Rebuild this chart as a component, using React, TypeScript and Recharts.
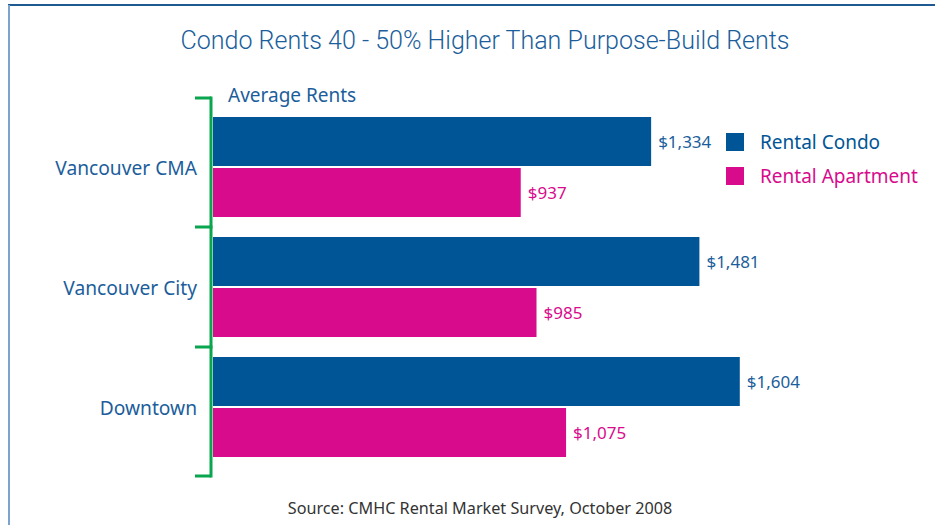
import React from "react";
import { BarChart, Bar, XAxis, YAxis, LabelList } from "recharts";

const categories = ["Vancouver CMA", "Vancouver City", "Downtown"];
const condoRents = [1334, 1481, 1604];
const apartmentRents = [937, 985, 1075];
const seriesNames = ["Rental Condo", "Rental Apartment"];

const CONDO = "#005596";
const APT = "#d80b8c";
const TEXT_BLUE = "#1b5e9b";
const GREEN = "#0aa54f";
const FONT = "'Noto Sans', 'Open Sans', sans-serif";

const data = categories.map((name, i) => ({
  name,
  condo: condoRents[i],
  apartment: apartmentRents[i],
}));

const fmt = (v: number) => "$" + v.toLocaleString("en-US");

const BracketTick = (props: any) => {
  const { x, y, payload, index } = props;
  const off = payload && payload.offset ? payload.offset : 60;
  const n = categories.length;
  const top = index === 0 ? y - off - 9 : y - off;
  const bottom = index === n - 1 ? y + off + 9 : y + off;
  const lx = x - 2;
  return (
    <g>
      <text
        x={x - 16}
        y={y}
        textAnchor="end"
        dominantBaseline="central"
        fill={TEXT_BLUE}
        fontSize={19.2}
        fontFamily={FONT}
      >
        {payload.value}
      </text>
      <line x1={lx} x2={lx} y1={top - 1.5} y2={bottom + 1.5} stroke={GREEN} strokeWidth={3} />
      <line x1={x - 18} x2={lx} y1={top} y2={top} stroke={GREEN} strokeWidth={3} />
      {index === n - 1 && (
        <line x1={x - 18} x2={lx} y1={bottom} y2={bottom} stroke={GREEN} strokeWidth={3} />
      )}
    </g>
  );
};

const LegendBox = () => {
  const colors = [CONDO, APT];
  return (
    <div style={{ position: "absolute", left: 726, top: 133, fontFamily: FONT }}>
      {seriesNames.map((s, i) => (
        <div key={s} style={{ display: "flex", alignItems: "center", height: 18, marginBottom: 16 }}>
          <div style={{ width: 18, height: 18, background: colors[i] }} />
          <span style={{ marginLeft: 16, fontSize: 19, color: colors[i], whiteSpace: "nowrap" }}>{s}</span>
        </div>
      ))}
    </div>
  );
};

export default function App() {
  return (
    <div style={{ position: "absolute", left: 0, top: 0, width: 935, height: 525, background: "#fff", overflow: "hidden" }}>
      <div style={{ position: "absolute", left: 8, top: 4, width: 927, height: 2, background: "#1d5a92" }} />
      <div style={{ position: "absolute", left: 8, top: 5, width: 2, height: 520, background: "#7ba3cc" }} />
      <svg width={935} height={525} style={{ position: "absolute", left: 0, top: 0 }}>
        <text
          x={485}
          y={49}
          textAnchor="middle"
          fill={TEXT_BLUE}
          fontSize={26}
          fontWeight={300}
          fontFamily="Roboto, sans-serif"
          textLength={609}
          lengthAdjust="spacingAndGlyphs"
        >
          Condo Rents 40 - 50% Higher Than Purpose-Build Rents
        </text>
        <text x={228} y={102} fill={TEXT_BLUE} fontSize={19} fontFamily={FONT}>
          Average Rents
        </text>
        <text x={480} y={514} textAnchor="middle" fill="#333" fontSize={16.2} fontFamily={FONT}>
          Source: CMHC Rental Market Survey, October 2008
        </text>
      </svg>
      <div style={{ position: "absolute", left: 0, top: 0 }}>
        <BarChart
          width={935}
          height={525}
          data={data}
          layout="vertical"
          margin={{ top: 107, bottom: 58, left: 13, right: 52 }}
          barCategoryGap={10}
          barGap={2}
        >
          <XAxis type="number" domain={[0, 2040]} hide />
          <YAxis
            type="category"
            dataKey="name"
            width={200}
            axisLine={false}
            tickLine={false}
            tickSize={0}
            tickMargin={0}
            tick={<BracketTick />}
            interval={0}
          />
          <Bar dataKey="condo" name={seriesNames[0]} fill={CONDO} isAnimationActive={false}>
            <LabelList
              dataKey="condo"
              position="right"
              offset={7}
              formatter={(v: any) => fmt(Number(v))}
              fill={TEXT_BLUE}
              fontSize={17}
              fontFamily={FONT}
            />
          </Bar>
          <Bar dataKey="apartment" name={seriesNames[1]} fill={APT} isAnimationActive={false}>
            <LabelList
              dataKey="apartment"
              position="right"
              offset={7}
              formatter={(v: any) => fmt(Number(v))}
              fill={APT}
              fontSize={17}
              fontFamily={FONT}
            />
          </Bar>
        </BarChart>
      </div>
      <LegendBox />
    </div>
  );
}
